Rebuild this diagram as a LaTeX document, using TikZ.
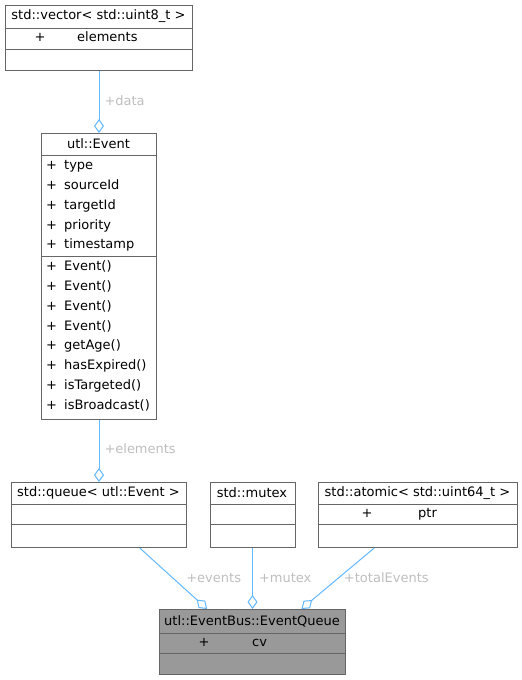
\documentclass[tikz,border=0pt]{standalone}
\usepackage{fontspec}
\setmainfont{DejaVu Sans}
\usetikzlibrary{arrows.meta,calc}

\definecolor{boxGray}{HTML}{666666}
\definecolor{mainFill}{HTML}{999999}
\definecolor{edgeBlue}{HTML}{63B8FF}
\definecolor{labelGray}{HTML}{BEBEBE}

\begin{document}
\begin{tikzpicture}[
    x=1pt, y=-1pt,
    font=\fontsize{13}{15}\selectfont,
    classBox/.style={rectangle, draw=boxGray, line width=1pt, fill=white,
        anchor=north west, inner sep=0pt},
    mainBox/.style={classBox, fill=mainFill},
    sep/.style={draw=boxGray, line width=1pt},
    title/.style={inner sep=0pt},
    member/.style={anchor=base west, inner sep=0pt},
    aggr/.style={draw=edgeBlue, line width=1pt,
        -{Diamond[open, length=14pt, width=10pt, fill=white]}},
    elabel/.style={text=labelGray, inner sep=0pt, anchor=west}
]
    \useasboundingbox (0,0) rectangle (522,680);

    % class boxes
    \node[classBox, minimum width=187pt, minimum height=65pt] (vec) at (5,5) {};
    \node[classBox, minimum width=115pt, minimum height=286pt] (evt) at (41,133) {};
    \node[classBox, minimum width=175pt, minimum height=65pt] (queue) at (11,482) {};
    \node[classBox, minimum width=85pt, minimum height=65pt] (mutex) at (209.5,482) {};
    \node[classBox, minimum width=199pt, minimum height=65pt] (atomic) at (318,482) {};
    \node[mainBox, minimum width=186pt, minimum height=65pt] (evq) at (159,609) {};

    % compartments
    \draw[sep] ($(vec.north west)+(0,23)$) -- ($(vec.north east)+(0,23)$);
    \draw[sep] ($(vec.north west)+(0,44)$) -- ($(vec.north east)+(0,44)$);
    \draw[sep] ($(evt.north west)+(0,22)$) -- ($(evt.north east)+(0,22)$);
    \draw[sep] ($(evt.north west)+(0,123)$) -- ($(evt.north east)+(0,123)$);
    \draw[sep] ($(queue.north west)+(0,22)$) -- ($(queue.north east)+(0,22)$);
    \draw[sep] ($(queue.north west)+(0,42)$) -- ($(queue.north east)+(0,42)$);
    \draw[sep] ($(mutex.north west)+(0,22)$) -- ($(mutex.north east)+(0,22)$);
    \draw[sep] ($(mutex.north west)+(0,42)$) -- ($(mutex.north east)+(0,42)$);
    \draw[sep] ($(atomic.north west)+(0,22)$) -- ($(atomic.north east)+(0,22)$);
    \draw[sep] ($(atomic.north west)+(0,42)$) -- ($(atomic.north east)+(0,42)$);
    \draw[sep] ($(evq.north west)+(0,24)$) -- ($(evq.north east)+(0,24)$);
    \draw[sep] ($(evq.north west)+(0,44)$) -- ($(evq.north east)+(0,44)$);

    % titles
    \node[title] (vecTitle) at (98.5,16.5) {std::vector< std::uint8\_t >};
    \node[title] (evtTitle) at (98.5,144) {utl::Event};
    \node[title] (queueTitle) at (98.5,493) {std::queue< utl::Event >};
    \node[title] (mutexTitle) at (252,493) {std::mutex};
    \node[title] (atomicTitle) at (417.5,493) {std::atomic< std::uint64\_t >};
    \node[title] (evqTitle) at (252,621) {utl::EventBus::EventQueue};

    % members
    \node[member] (vecElem) at (34.5,41) {\makebox[42.5pt][l]{+}elements};
    \foreach \m [count=\i from 0] in {type, sourceId, targetId, priority, timestamp}
        \node[member] (evtAttr\i) at (46,169.5+19.86*\i) {\makebox[18pt][l]{+}\m};
    \foreach \m [count=\i from 0] in {Event(), Event(), Event(), Event(), getAge(),
        hasExpired(), isTargeted(), isBroadcast()}
        \node[member] (evtOp\i) at (46,270.5+19.86*\i) {\makebox[18pt][l]{+}\m};
    \node[member] (atomicPtr) at (361.5,517.5) {\makebox[56.5pt][l]{+}ptr};
    \node[member] (evqCv) at (198.5,646.5) {\makebox[53.5pt][l]{+}cv};

    % aggregations
    \draw[aggr] (vec) -- (evt)
        node[elabel, pos=0.48, xshift=5pt] (dataLbl) {+data};
    \draw[aggr] (evt) -- (queue)
        node[elabel, pos=0.46, xshift=5pt] (elemLbl) {+elements};
    \draw[aggr] (queue.-39.4) -- (evq.144.2)
        node[elabel, pos=0.484, xshift=13.5pt] (eventsLbl) {+events};
    \draw[aggr] (mutex) -- (evq)
        node[elabel, pos=0.484, xshift=6pt] (mutexLbl) {+mutex};
    \draw[aggr] (atomic.217.4) -- (evq.34.1)
        node[elabel, pos=0.484, xshift=4.5pt] (totalLbl) {+totalEvents};
\end{tikzpicture}
\end{document}
